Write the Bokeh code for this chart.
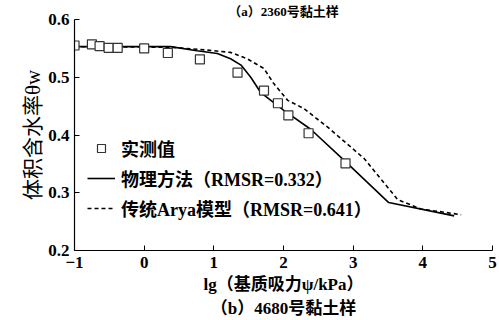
import numpy as np
from bokeh.plotting import figure
from bokeh.models import Range1d, FixedTicker, Legend, LegendItem, Title
from bokeh.embed import file_html
from bokeh.resources import INLINE

# measured values (实测值)
meas_x = [-1.0, -0.75, -0.64, -0.51, -0.38, 0.0, 0.34, 0.80, 1.34, 1.72, 1.92, 2.07, 2.36, 2.89]
meas_y = [0.555, 0.557, 0.554, 0.551, 0.551, 0.550, 0.542, 0.531, 0.508, 0.477, 0.455, 0.434, 0.403, 0.351]
# physical method (物理方法)
phys_x = [-1.0, -0.2, 0.38, 0.76, 1.05, 1.24, 1.39, 1.53, 1.67, 2.00, 2.39, 2.89, 3.51, 4.45]
phys_y = [0.553, 0.553, 0.553, 0.546, 0.541, 0.532, 0.521, 0.500, 0.474, 0.443, 0.410, 0.354, 0.283, 0.260]
# traditional Arya model (传统Arya模型)
arya_x = [-1.0, 0.38, 0.91, 1.24, 1.48, 1.72, 1.86, 2.06, 2.29, 2.63, 3.16, 3.64, 3.97, 4.55]
arya_y = [0.553, 0.552, 0.547, 0.543, 0.532, 0.515, 0.489, 0.460, 0.446, 0.414, 0.359, 0.288, 0.272, 0.262]

x_ticks = [-1, 0, 1, 2, 3, 4, 5]
y_ticks = [0.2, 0.3, 0.4, 0.5, 0.6]

FONT = "'Liberation Serif', 'Noto Sans CJK SC'"

p = figure(width=499, height=320, output_backend="svg", toolbar_location=None,
           x_range=Range1d(-1, 5), y_range=Range1d(0.2, 0.6),
           min_border_left=74, min_border_right=7, min_border_top=19, min_border_bottom=70)
p.outline_line_color = None
p.grid.visible = False
p.background_fill_color = "white"
p.border_fill_color = "white"

r_phys = p.line(phys_x, phys_y, line_color="black", line_width=1.6)
r_arya = p.line(arya_x, arya_y, line_color="black", line_width=1.6, line_dash="4 3")
r_meas = p.scatter(meas_x, meas_y, marker="square", size=9, fill_color="white",
                   line_color="#333333", line_width=1.2)

for ax in (p.xaxis[0], p.yaxis[0]):
    ax.axis_line_color = "black"
    ax.axis_line_width = 1.2
    ax.major_tick_in = 5
    ax.major_tick_out = 0
    ax.minor_tick_line_color = None
    ax.major_tick_line_color = "black"
    ax.major_label_text_font = FONT
    ax.major_label_text_font_size = "17px"
    ax.major_label_text_font_style = "bold"
    ax.major_label_text_color = "black"

p.xaxis.ticker = FixedTicker(ticks=x_ticks)
p.xaxis.major_label_overrides = {-1: "\u22121"}
p.yaxis.ticker = FixedTicker(ticks=y_ticks)
p.xaxis.major_label_standoff = 6
p.yaxis.major_label_standoff = 5

p.xaxis.axis_label = "lg\uff08\u57fa\u8d28\u5438\u529b\u03c8/kPa\uff09"
p.xaxis.axis_label_text_font = FONT
p.xaxis.axis_label_text_font_size = "17px"
p.xaxis.axis_label_text_font_style = "bold"
p.xaxis.axis_label_text_color = "black"
p.xaxis.axis_label_standoff = 4

p.yaxis.axis_label = "\u4f53\u79ef\u542b\u6c34\u7387\u03b8w"
p.yaxis.axis_label_text_font = FONT
p.yaxis.axis_label_text_font_size = "21px"
p.yaxis.axis_label_text_font_style = "normal"
p.yaxis.axis_label_text_color = "black"
p.yaxis.axis_label_standoff = 0

# top title (only partly visible in the original)
p.add_layout(Title(text="\uff08a\uff092360\u53f7\u9ecf\u571f\u6837", align="center", offset=10,
                   text_font=FONT, text_font_size="13px", text_font_style="bold",
                   text_color="black", standoff=2), "above")

# bottom caption
p.add_layout(Title(text="\uff08b\uff094680\u53f7\u9ecf\u571f\u6837", align="center",
                   text_font=FONT, text_font_size="17px", text_font_style="bold",
                   text_color="black", standoff=1), "below")

legend = Legend(items=[
    LegendItem(label="\u5b9e\u6d4b\u503c", renderers=[r_meas]),
    LegendItem(label="\u7269\u7406\u65b9\u6cd5\uff08RMSR=0.332\uff09", renderers=[r_phys]),
    LegendItem(label="\u4f20\u7edfArya\u6a21\u578b\uff08RMSR=0.641\uff09", renderers=[r_arya]),
], location=(13, 29))
legend.border_line_color = None
legend.background_fill_alpha = 0
legend.padding = 0
legend.margin = 0
legend.spacing = 4
legend.label_height = 20
legend.glyph_height = 20
legend.glyph_width = 28
legend.label_standoff = 6
legend.label_text_font = FONT
legend.label_text_font_size = "18px"
legend.label_text_font_style = "bold"
legend.label_text_color = "black"
p.add_layout(legend, "center")

open("out.html", "w").write(file_html(p, INLINE))
